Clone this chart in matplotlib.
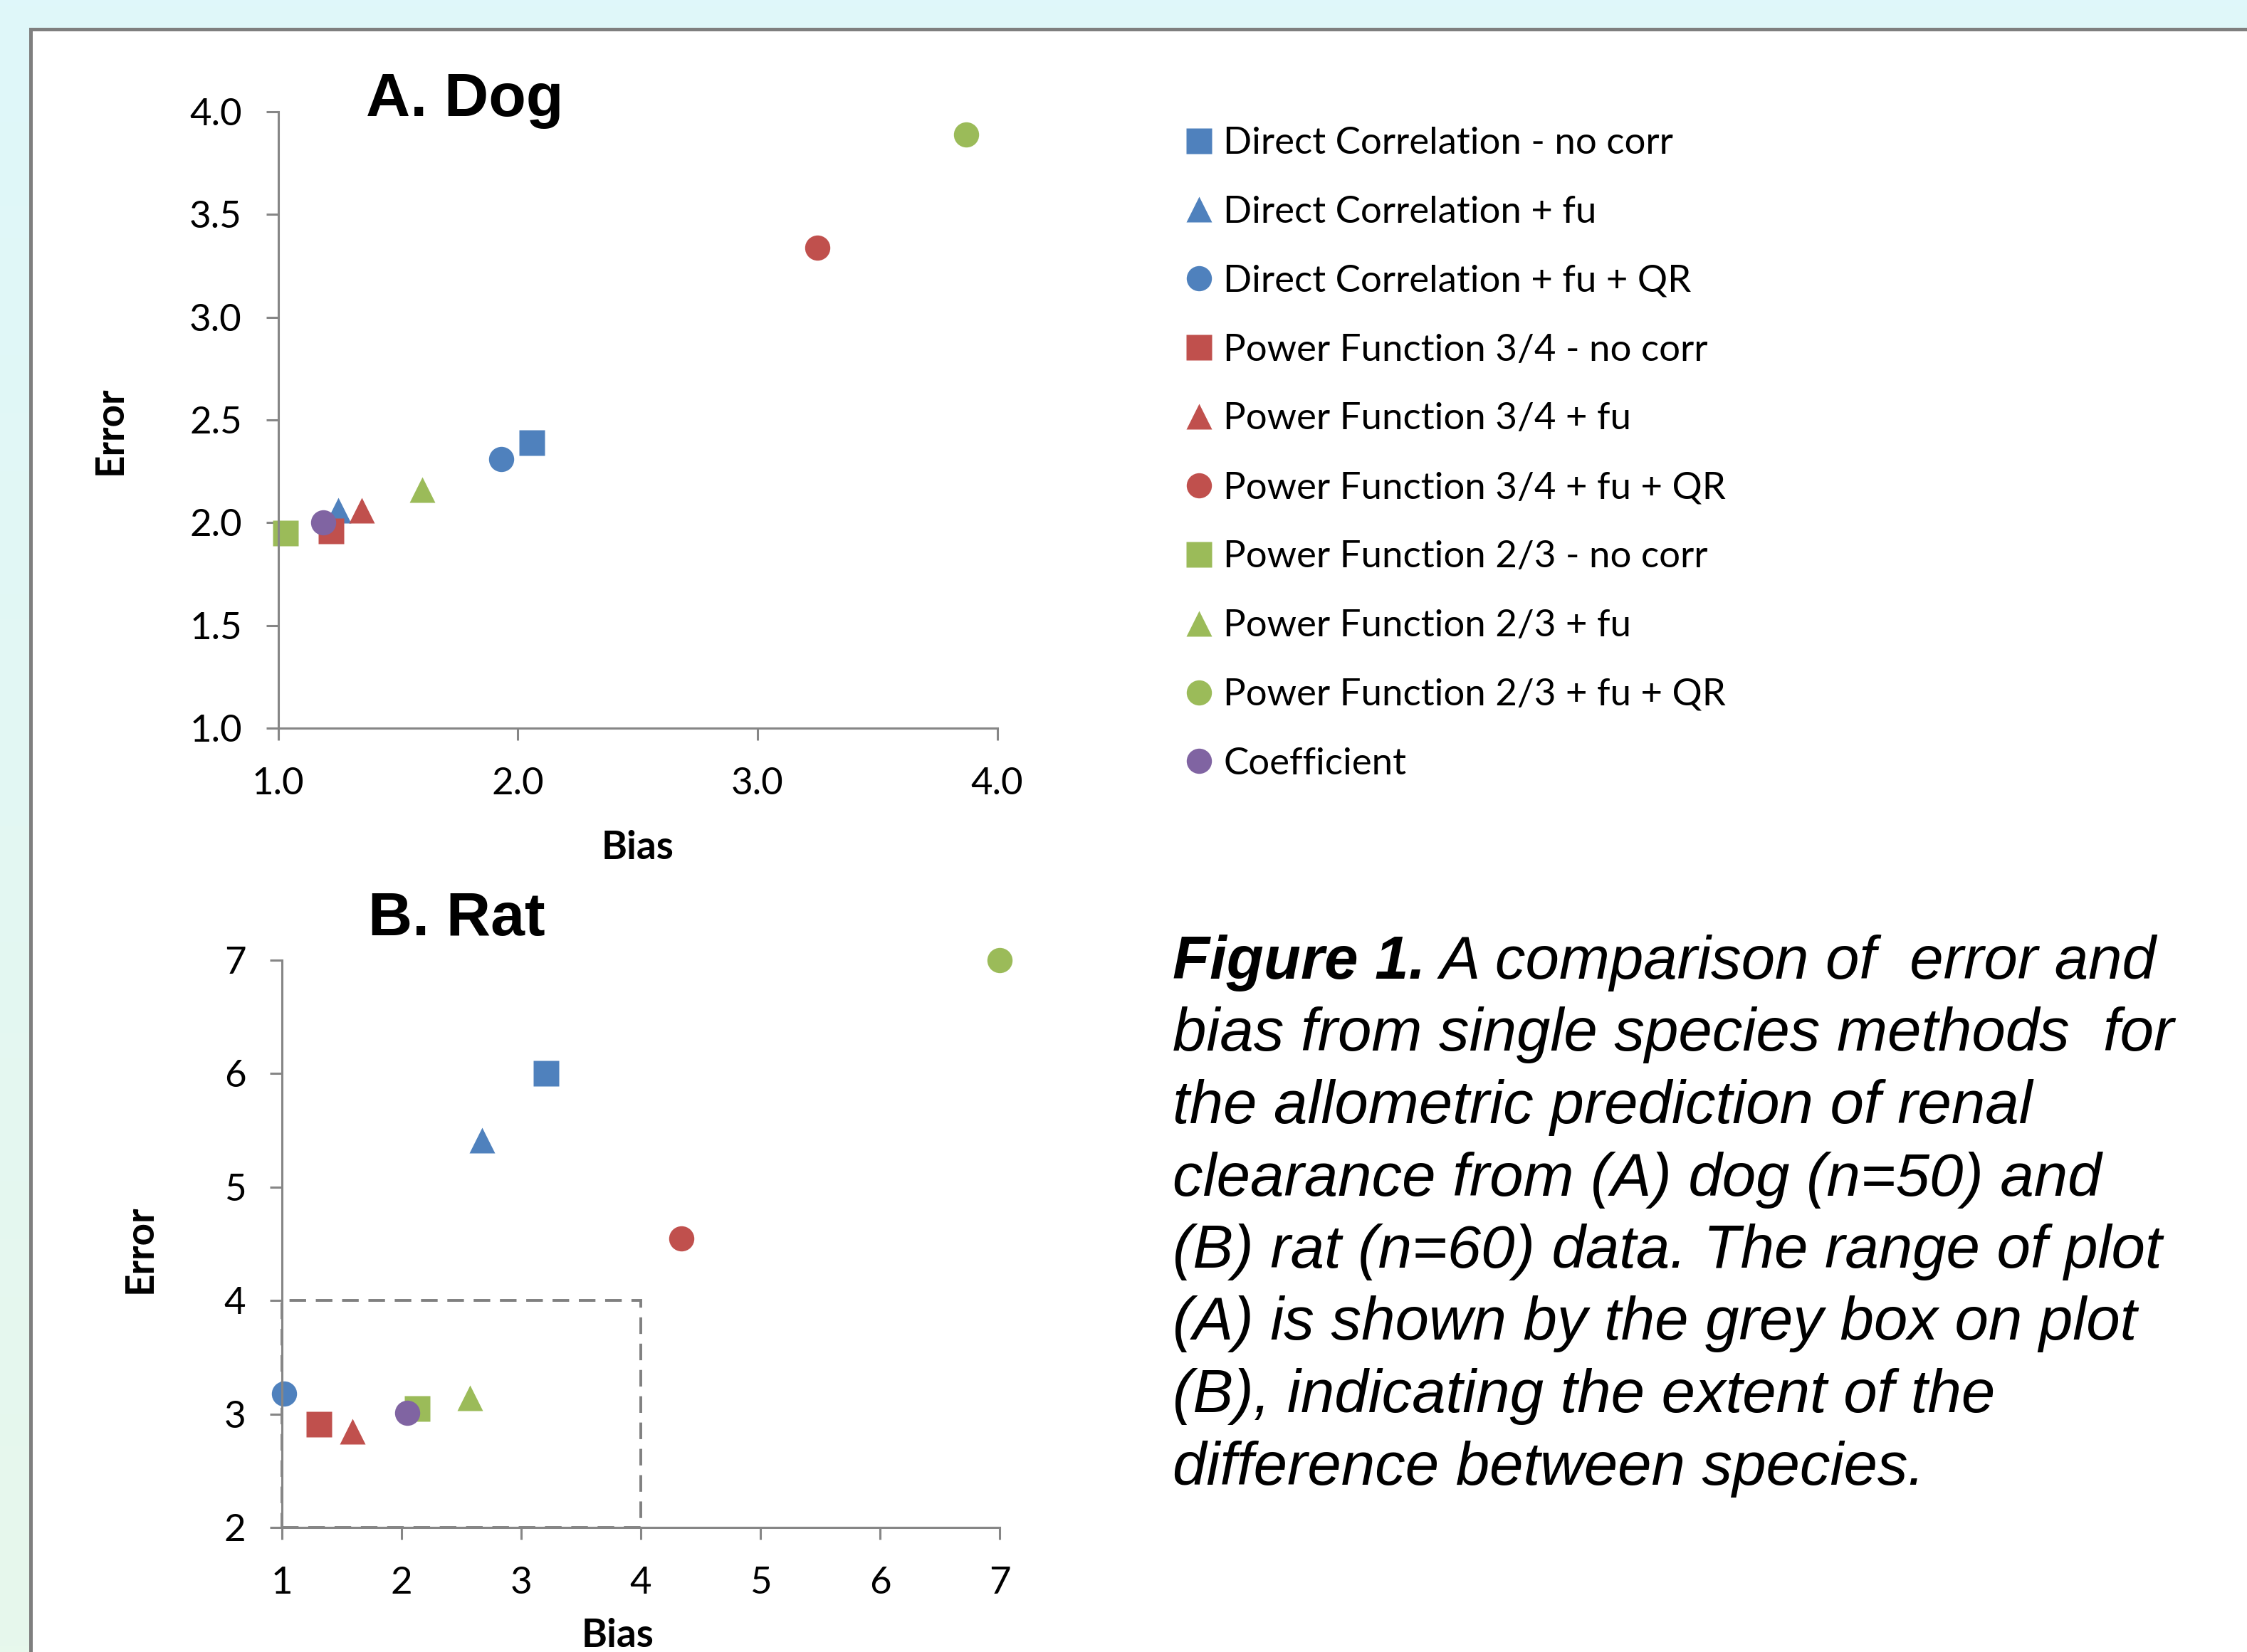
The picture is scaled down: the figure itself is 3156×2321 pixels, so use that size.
import numpy as np
import matplotlib
matplotlib.use("Agg")
import matplotlib.pyplot as plt
from matplotlib import font_manager as fm
from matplotlib.patches import Rectangle

# ---- data ----
labels = ["Direct Correlation - no corr", "Direct Correlation + fu", "Direct Correlation + fu + QR",
          "Power Function 3/4 - no corr", "Power Function 3/4 + fu", "Power Function 3/4 + fu + QR",
          "Power Function 2/3 - no corr", "Power Function 2/3 + fu", "Power Function 2/3 + fu + QR",
          "Coefficient"]
colors = ["#4F81BD"] * 3 + ["#C0504D"] * 3 + ["#9BBB59"] * 3 + ["#8064A2"]
markers = ["s", "^", "o"] * 3 + ["o"]

dog_bias = [2.06, 1.25, 1.93, 1.22, 1.35, 3.25, 1.03, 1.60, 3.87, 1.19]
dog_error = [2.39, 2.06, 2.31, 1.96, 2.06, 3.34, 1.95, 2.16, 3.89, 2.00]
rat_bias = [3.21, 2.67, 1.02, 1.31, 1.59, 4.34, 2.13, 2.57, 7.00, 2.05]
rat_error = [6.00, 5.41, 3.18, 2.91, 2.85, 4.55, 3.05, 3.14, 7.00, 3.01]

dog_xticks = [1.0, 2.0, 3.0, 4.0]
dog_yticks = [1.0, 1.5, 2.0, 2.5, 3.0, 3.5, 4.0]
rat_xticks = [1, 2, 3, 4, 5, 6, 7]
rat_yticks = [2, 3, 4, 5, 6, 7]

caption = ["A comparison of  error and",
           "bias from single species methods  for",
           "the allometric prediction of renal",
           "clearance from (A) dog (n=50) and",
           "(B) rat (n=60) data. The range of plot",
           "(A) is shown by the grey box on plot",
           "(B), indicating the extent of the",
           "difference between species."]

W, H = 3156, 2321
plt.rcParams["font.family"] = ["Lato", "DejaVu Sans"]
fig = plt.figure(figsize=(W / 100, H / 100), dpi=100)


def px(x, y):
    return x / W, 1 - y / H


names = {f.name for f in fm.fontManager.ttflist}
cap_font = "Liberation Sans Narrow" if "Liberation Sans Narrow" in names else "Liberation Sans"

# background gradient + white panel
bg = fig.add_axes([0, 0, 1, 1], zorder=-10)
grad = np.linspace(0, 1, 256)[:, None, None]
top = np.array([0xDF, 0xF7, 0xFA]) / 255
bot = np.array([0xE7, 0xF8, 0xEC]) / 255
bg.imshow(top + (bot - top) * grad, aspect="auto", extent=[0, 1, 0, 1])
bg.axis("off")
x0, y0 = px(42.5, 40.5)
fig.patches.append(Rectangle((x0, -0.1), 1.2, y0 + 0.1, transform=fig.transFigure,
                             facecolor="white", edgecolor="#7F7F7F", lw=3.6, zorder=-5))

grey = "#868686"


def style(ax):
    for s in ["top", "right"]:
        ax.spines[s].set_visible(False)
    for s in ["left", "bottom"]:
        ax.spines[s].set_color(grey)
        ax.spines[s].set_linewidth(2.2)
    ax.tick_params(direction="out", length=12.5, width=2.2, color=grey, pad=24,
                   labelsize=38, labelcolor="black")
    ax.tick_params(axis="x", pad=27)
    ax.set_facecolor("none")


# A. Dog
l, t = px(390.5, 157)
r, b = px(1400.5, 1023)
axA = fig.add_axes([l, b, r - l, t - b])
handles = []
for i in range(len(labels)):
    h, = axA.plot(dog_bias[i], dog_error[i], linestyle="none", marker=markers[i], ms=25.5,
                  color=colors[i], mec="none", clip_on=False, label=labels[i])
    handles.append(h)
axA.set_xlim(1, 4)
axA.set_ylim(1, 4)
axA.set_xticks(dog_xticks)
axA.set_yticks(dog_yticks)
axA.set_xticklabels([f"{v:.1f}" for v in dog_xticks])
axA.set_yticklabels([f"{v:.1f}" for v in dog_yticks])
style(axA)

# B. Rat
l, t = px(396, 1349)
r, b = px(1404, 2146)
axB = fig.add_axes([l, b, r - l, t - b])
for i in range(len(labels)):
    axB.plot(rat_bias[i], rat_error[i], linestyle="none", marker=markers[i], ms=25.5,
             color=colors[i], mec="none", clip_on=False)
# grey box = extent of plot A
axB.add_patch(Rectangle((dog_xticks[0], 2), dog_xticks[-1] - dog_xticks[0], 2, fill=False,
                        edgecolor="#808080", lw=2.8, linestyle=(0, (6, 3.5)), zorder=1.5,
                        clip_on=False))
axB.set_xlim(1, 7)
axB.set_ylim(2, 7)
axB.set_xticks(rat_xticks)
axB.set_yticks(rat_yticks)
style(axB)

# axis labels and panel titles
lab = dict(fontsize=39.5, fontweight="bold", ha="center", va="center")
fig.text(*px(896, 1191), "Bias", **lab)
fig.text(*px(155, 605), "Error", rotation=90, **lab)
fig.text(*px(868, 2298), "Bias", **lab)
fig.text(*px(197, 1755), "Error", rotation=90, **lab)
ttl = dict(fontsize=62, fontweight="bold", family="Liberation Sans", ha="left", va="baseline")
fig.text(*px(514, 163), "A. Dog", **ttl)
fig.text(*px(517, 1314), "B. Rat", **ttl)

# legend
fs_leg = 38
fig.legend(handles=handles, loc="upper left", bbox_to_anchor=px(1667, 178), frameon=False,
           fontsize=fs_leg, borderpad=0, borderaxespad=0, handlelength=0.663, handletextpad=0.31,
           labelspacing=0.945, markerscale=1.0)

# caption
renderer = fig.canvas.get_renderer()
cx = 1647
for k, line in enumerate(caption):
    y = 1375 + k * 101.5
    if k == 0:
        t0 = fig.text(*px(cx, y), "Figure 1.", family=cap_font, style="italic", fontweight="bold",
                      fontsize=61.4, ha="left", va="baseline")
        bb = t0.get_window_extent(renderer)
        fig.text(bb.x1 / W, 1 - y / H, " " + line, family=cap_font, style="italic",
                 fontsize=61.4, ha="left", va="baseline")
    else:
        fig.text(*px(cx, y), line, family=cap_font, style="italic", fontsize=61.4,
                 ha="left", va="baseline")

fig.savefig("out.png", dpi=100)
